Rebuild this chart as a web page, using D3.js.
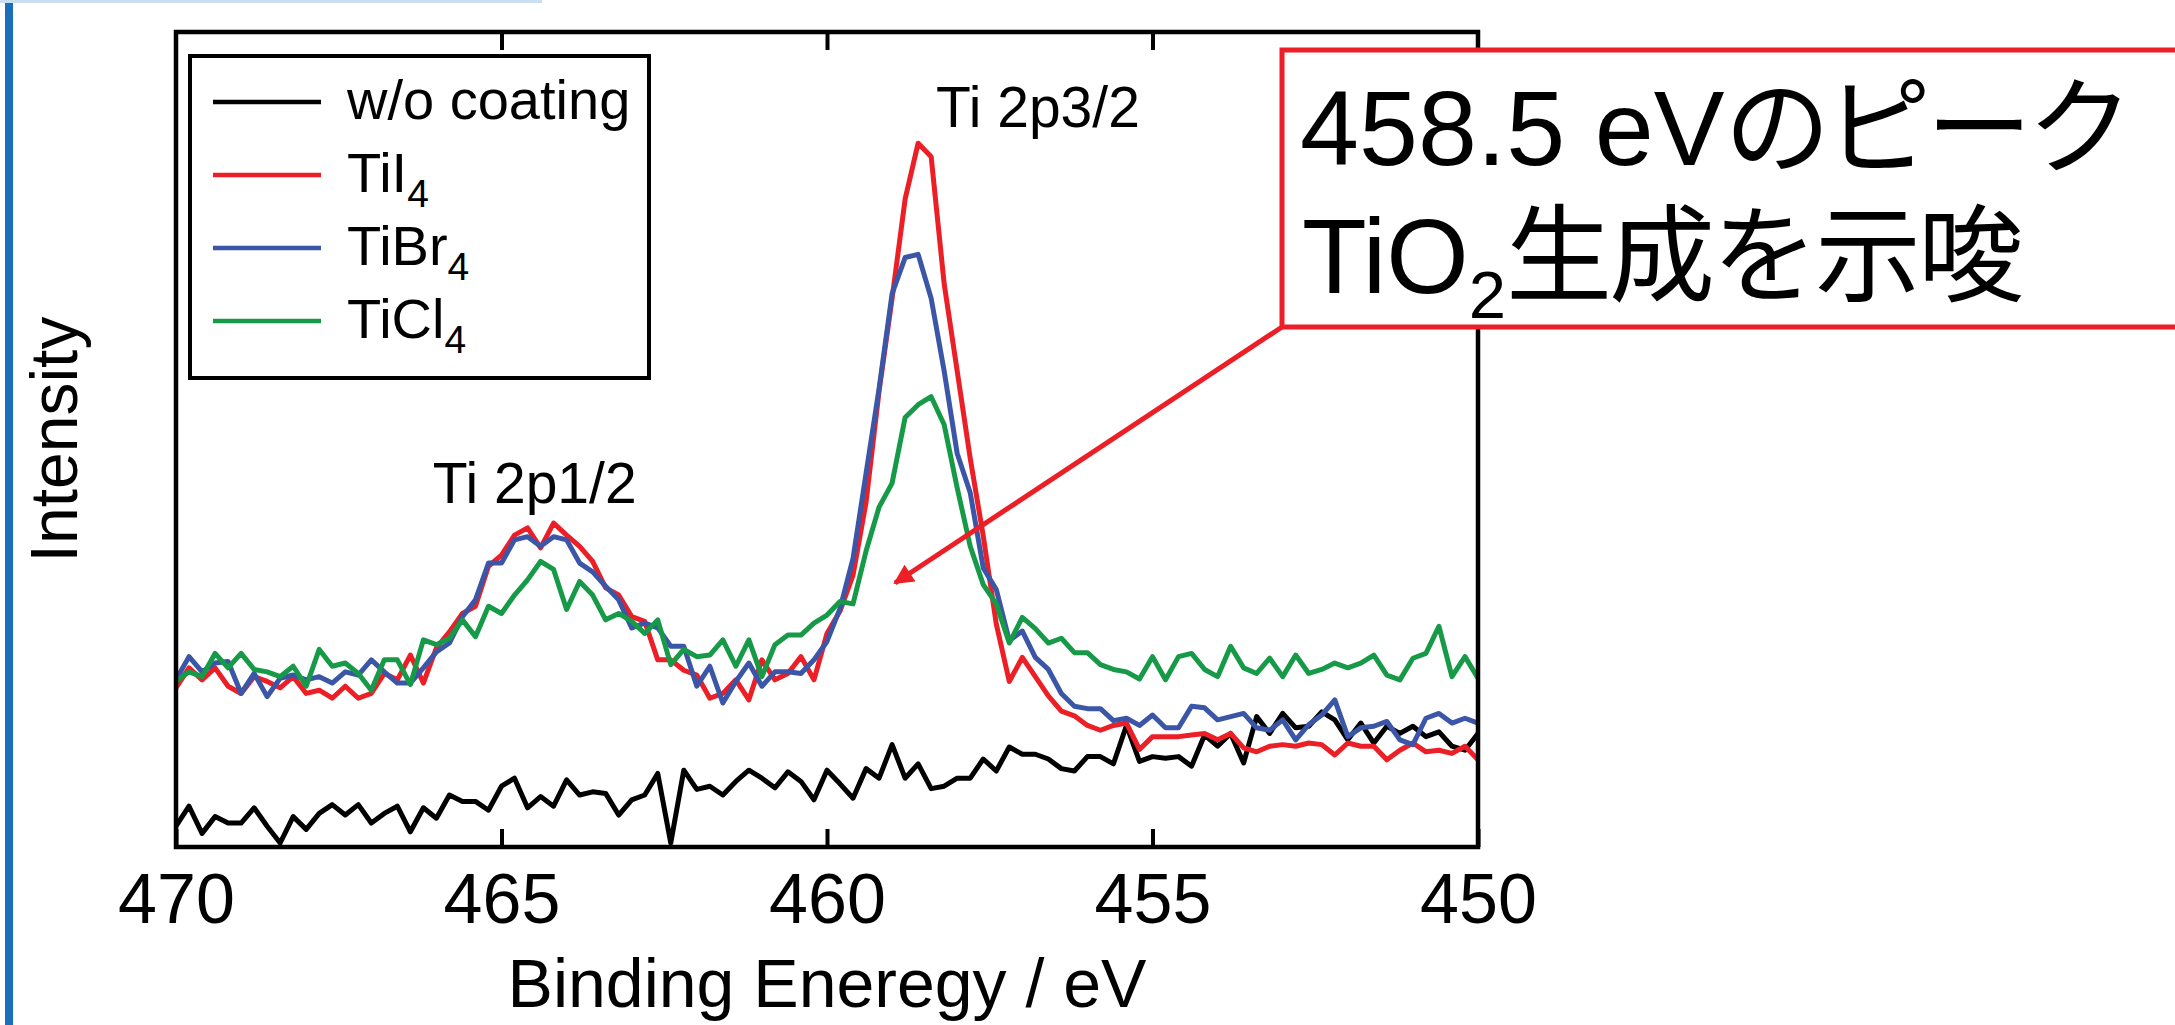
<!DOCTYPE html>
<html>
<head>
<meta charset="utf-8">
<script src="https://cdn.jsdelivr.net/npm/d3@7"></script>
<style>
  body { margin: 0; background: #fff; }
  svg { display: block; }
  text { font-family: 'Liberation Sans', Arial, 'Noto Sans CJK JP', sans-serif; fill: #000; }
</style>
</head>
<body>
<svg id="xps_svg" width="2175" height="1025"></svg>
<script>
// binding energy grid, 470 -> 450 eV in 0.2 eV steps (101 points)
const energy_start = 470;
const energy_step = 0.2;
const n_points = 101;

// intensities (arbitrary units)
const wo_coating = [
  2.6, 5.1, 1.7, 3.8, 3.0, 3.0, 4.9, 2.6, 0.5, 3.8, 2.2, 4.2, 5.3, 4.0, 5.3, 3.0, 4.2, 5.1, 1.9, 4.9, 3.6, 6.5, 5.7, 5.7, 4.6, 7.6,
  8.6, 4.9, 6.3, 5.1, 8.4, 6.5, 6.9, 6.7, 4.0, 5.9, 6.5, 9.2, 0.5, 9.6, 7.2, 7.6, 6.5, 8.2, 9.6, 8.6, 7.4, 9.4, 8.2, 5.9, 9.6,
  7.9, 6.1, 9.8, 8.6, 12.8, 8.6, 10.4, 7.3, 7.6, 8.6, 8.6, 11.0, 9.5, 12.5, 11.6, 11.6, 11.0, 9.8, 9.5, 11.3, 11.3, 10.4, 15.2, 10.7,
  11.3, 11.1, 11.3, 10.1, 14.0, 12.6, 14.2, 10.5, 16.3, 14.2, 16.7, 14.9, 15.1, 16.9, 15.9, 13.4, 15.5, 13.0, 15.1, 14.2, 15.1, 13.8, 14.4, 12.6, 12.1, 14.2
];
const til4 = [
  19.9, 22.4, 20.9, 22.4, 20.1, 19.2, 21.3, 20.7, 19.9, 21.3, 19.2, 19.6, 18.6, 20.1, 18.6, 19.2, 21.7, 20.9, 24.0, 20.5, 24.9, 26.9, 29.2, 30.1, 35.1, 36.5,
  39.0, 39.9, 37.4, 40.5, 39.0, 37.6, 35.7, 32.4, 31.5, 28.8, 28.2, 23.4, 23.4, 22.1, 21.5, 18.6, 19.2, 20.9, 18.4, 23.4, 20.9, 21.7, 23.8, 20.9, 26.7,
  29.5, 34.0, 43.1, 57.0, 68.6, 81.0, 88.0, 86.3, 70.4, 59.5, 48.6, 38.9, 27.9, 20.7, 23.7, 21.3, 18.9, 17.0, 16.4, 15.2, 14.6, 15.2, 15.5, 12.2,
  13.8, 13.8, 13.8, 14.0, 14.2, 13.4, 14.2, 12.4, 11.9, 12.6, 12.8, 12.6, 13.0, 12.8, 11.5, 13.0, 12.6, 12.6, 10.9, 12.1, 13.0, 11.9, 12.1, 11.7, 12.6, 10.9
];
const tibr4 = [
  20.9, 23.8, 21.9, 23.0, 23.2, 19.2, 21.7, 18.8, 21.1, 21.5, 20.9, 21.3, 20.5, 21.9, 21.5, 23.4, 21.9, 20.5, 20.5, 22.4, 24.4, 25.5, 28.8, 30.9, 35.5, 35.5,
  38.4, 38.8, 37.6, 38.8, 38.4, 35.5, 34.4, 32.6, 30.9, 27.4, 28.0, 27.4, 25.1, 25.1, 20.1, 22.6, 18.0, 20.7, 23.0, 20.1, 21.9, 21.9, 21.7, 23.4, 25.7,
  29.8, 36.1, 46.7, 57.3, 69.2, 73.7, 74.1, 68.6, 59.5, 49.2, 44.3, 34.9, 32.2, 25.8, 27.0, 23.7, 22.2, 19.2, 17.6, 17.3, 17.3, 15.8, 16.1, 15.2,
  16.5, 14.9, 14.9, 17.6, 17.4, 15.9, 16.3, 16.7, 14.9, 14.6, 15.9, 13.4, 15.3, 16.5, 18.4, 13.8, 14.9, 15.1, 15.7, 13.4, 12.8, 16.1, 16.7, 15.5, 16.1, 15.5
];
const ticl4 = [
  20.7, 21.9, 21.3, 24.2, 22.4, 24.2, 22.2, 21.9, 21.3, 22.6, 20.1, 24.7, 22.6, 23.0, 21.7, 19.6, 23.4, 23.4, 20.3, 25.9, 25.3, 26.1, 28.4, 26.3, 30.1, 29.2,
  31.5, 33.4, 35.7, 34.7, 29.7, 33.2, 31.5, 28.4, 29.2, 28.2, 26.7, 28.4, 22.8, 24.7, 23.8, 24.0, 25.9, 22.6, 25.9, 21.3, 25.3, 26.5, 26.5, 28.0, 29.0,
  30.7, 30.4, 37.0, 42.5, 45.5, 53.7, 55.3, 56.3, 52.8, 44.9, 37.6, 32.8, 30.4, 25.5, 28.7, 27.3, 25.5, 26.1, 24.3, 24.3, 22.8, 22.2, 21.9, 21.0,
  23.8, 20.9, 23.8, 24.2, 22.2, 21.3, 25.1, 22.4, 21.7, 23.6, 21.3, 24.0, 21.7, 22.2, 23.0, 22.4, 23.0, 24.0, 21.5, 20.9, 23.6, 24.2, 27.6, 21.3, 23.8, 21.1
];

const series_names = ['w/o coating', 'TiI', 'TiBr', 'TiCl'];
const series_subs = ['', '4', '4', '4'];
const series_colors = ['#000000', '#ec1f26', '#3b56a6', '#179a48'];
const series_values = [wo_coating, til4, tibr4, ticl4];

const x_ticks = [470, 465, 460, 455, 450];
const peak_labels = [
  { text: 'Ti 2p1/2', energy: 464.49, level: 43.0 },
  { text: 'Ti 2p3/2', energy: 456.76, level: 90.0 },
];
const note_line1 = ['458.5 eV', 'のピーク'];
const note_line2 = ['TiO', '2', '生成を示唆'];

/**
 * Plot area
 */
const margin = { top: 32, bottom: 178, left: 176, right: 697 };
const width = 2175;
const height = 1025;
const svg = d3.select('#xps_svg');

const xScale = d3.scaleLinear()
  .domain([470, 450])
  .range([margin.left, width - margin.right]);
const yScale = d3.scaleLinear()
  .domain([0, 101.9])
  .range([height - margin.bottom, margin.top]);

// page decoration: blue side bar + faint top rule
svg.append('rect').attr('x', 5).attr('y', 0).attr('width', 8).attr('height', height).attr('fill', '#1b6fba');
svg.append('rect').attr('x', 0).attr('y', 0).attr('width', 542).attr('height', 3).attr('fill', '#c9def1');

/**
 * Spectra
 */
const energies = d3.range(n_points).map((i) => energy_start - i * energy_step);
const line = d3.line()
  .x((d, i) => xScale(energies[i]))
  .y((d) => yScale(d));

svg.append('g')
  .selectAll('path')
  .data(series_values)
  .enter()
  .append('path')
  .attr('d', (d) => line(d))
  .attr('fill', 'none')
  .attr('stroke', (d, i) => series_colors[i])
  .attr('stroke-width', 5)
  .attr('stroke-linejoin', 'round');

/**
 * Axes (ticks inside, bottom + top)
 */
const x_axis = d3.axisBottom(xScale).tickValues(x_ticks).tickSizeInner(-18).tickSizeOuter(0);
const g_x = svg.append('g')
  .attr('transform', 'translate(0,' + (height - margin.bottom) + ')')
  .call(x_axis);
g_x.select('.domain').remove();
g_x.selectAll('line').attr('stroke', '#000').attr('stroke-width', 4);
g_x.selectAll('text')
  .attr('y', 76)
  .attr('dy', null)
  .style('font-size', '70px')
  .style('font-family', "'Liberation Sans', Arial, sans-serif");

const x_axis_top = d3.axisTop(xScale).tickValues(x_ticks.slice(1, -1)).tickSizeInner(-18).tickSizeOuter(0).tickFormat('');
const g_xt = svg.append('g')
  .attr('transform', 'translate(0,' + margin.top + ')')
  .call(x_axis_top);
g_xt.select('.domain').remove();
g_xt.selectAll('line').attr('stroke', '#000').attr('stroke-width', 4);

svg.append('rect')
  .attr('x', margin.left)
  .attr('y', margin.top)
  .attr('width', width - margin.right - margin.left)
  .attr('height', height - margin.bottom - margin.top)
  .attr('fill', 'none')
  .attr('stroke', '#000')
  .attr('stroke-width', 4.5);

svg.append('text')
  .attr('x', (margin.left + width - margin.right) / 2)
  .attr('y', 1007)
  .attr('text-anchor', 'middle')
  .style('font-size', '68px')
  .text('Binding Eneregy / eV');

svg.append('text')
  .attr('transform', 'translate(77,' + (margin.top + height - margin.bottom) / 2 + ') rotate(-90)')
  .attr('text-anchor', 'middle')
  .style('font-size', '66px')
  .text('Intensity');

/**
 * Peak labels
 */
svg.selectAll('.peak_label')
  .data(peak_labels)
  .enter()
  .append('text')
  .attr('class', 'peak_label')
  .attr('x', (d) => xScale(d.energy))
  .attr('y', (d) => yScale(d.level))
  .attr('text-anchor', 'middle')
  .style('font-size', '57px')
  .text((d) => d.text);

/**
 * Legend
 */
const legend = svg.append('g');
legend.append('rect')
  .attr('x', 190).attr('y', 56)
  .attr('width', 459).attr('height', 322)
  .attr('fill', '#fff')
  .attr('stroke', '#000')
  .attr('stroke-width', 4);

const legend_item = legend.selectAll('.legend_item')
  .data(series_names)
  .enter()
  .append('g')
  .attr('class', 'legend_item')
  .attr('transform', (d, i) => 'translate(213,' + (102 + i * 73) + ')');

legend_item.append('line')
  .attr('x1', 0).attr('x2', 108)
  .attr('stroke', (d, i) => series_colors[i])
  .attr('stroke-width', 4.5);

const legend_text = legend_item.append('text')
  .attr('x', 134)
  .attr('y', 17)
  .style('font-size', '56px');
legend_text.append('tspan').text((d) => d);
legend_text.append('tspan')
  .attr('dy', 15)
  .style('font-size', '39px')
  .text((d, i) => series_subs[i]);

/**
 * Annotation box + arrow
 */
const red = '#ec1f26';
svg.append('defs').append('marker')
  .attr('id', 'arrow_head')
  .attr('viewBox', '0 0 10 10')
  .attr('refX', 9).attr('refY', 5)
  .attr('markerWidth', 5).attr('markerHeight', 4)
  .attr('markerUnits', 'strokeWidth')
  .attr('orient', 'auto')
  .append('path')
  .attr('d', 'M0,0 L10,5 L0,10 z')
  .attr('fill', red);

svg.append('line')
  .attr('x1', 1282).attr('y1', 327)
  .attr('x2', 895).attr('y2', 583)
  .attr('stroke', red)
  .attr('stroke-width', 5)
  .attr('marker-end', 'url(#arrow_head)');

svg.append('rect')
  .attr('x', 1282).attr('y', 50)
  .attr('width', 960).attr('height', 277)
  .attr('fill', '#fff')
  .attr('stroke', red)
  .attr('stroke-width', 5);

const note1 = svg.append('text')
  .attr('x', 1300).attr('y', 165)
  .style('font-size', '106px');
note1.append('tspan').text(note_line1[0]);
note1.append('tspan').style('letter-spacing', '-5px').text(note_line1[1]);

const note2 = svg.append('text')
  .attr('x', 1302).attr('y', 293)
  .style('font-size', '106px');
note2.append('tspan').text(note_line2[0]);
note2.append('tspan').attr('dy', 25).style('font-size', '67px').text(note_line2[1]);
note2.append('tspan').attr('dy', -25).style('letter-spacing', '-3px').text(note_line2[2]);
</script>
</body>
</html>
